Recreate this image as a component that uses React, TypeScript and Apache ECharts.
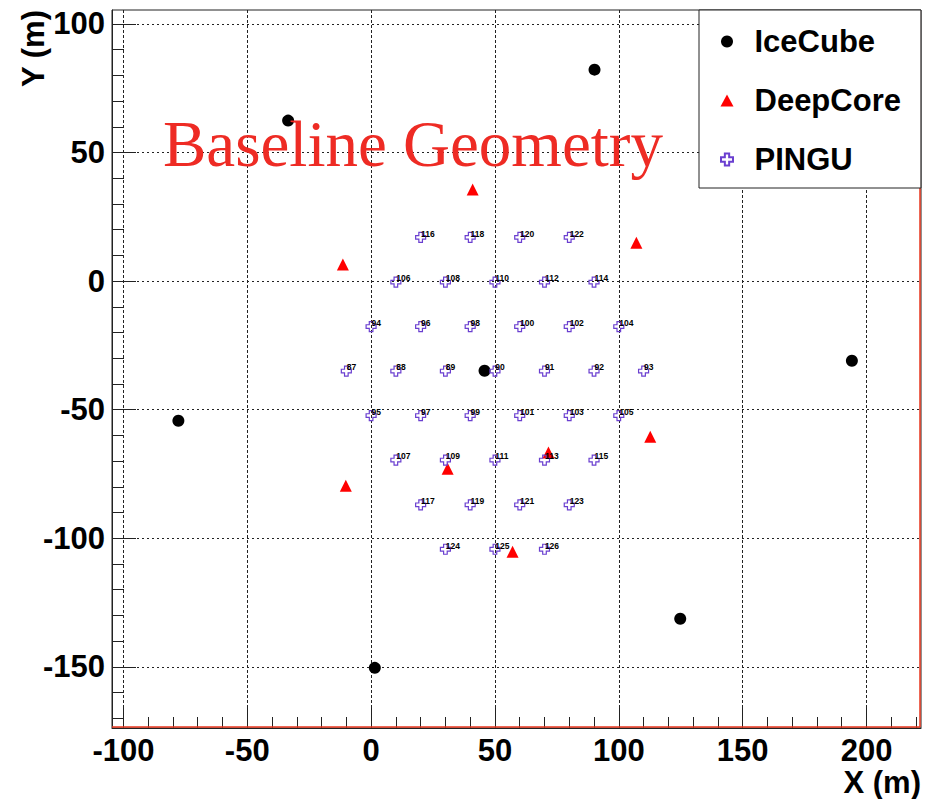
import React, { useEffect, useRef } from "react";
import * as echarts from "echarts";

// ---- data ----
const iceCubeX = [90.2, -33.5, -77.8, 45.8, 194.1, 124.8, 1.5];
const iceCubeY = [82.2, 62.4, -54.3, -34.9, -31.0, -131.3, -150.4];

const deepCoreX = [41.0, 107.1, -11.4, 112.7, 71.6, 30.9, -10.2, 57.1];
const deepCoreY = [35.6, 14.9, 6.4, -60.5, -66.7, -73.0, -79.6, -105.3];

const pinguIds = [
  87, 88, 89, 90, 91, 92, 93,
  94, 95, 96, 97, 98, 99, 100, 101, 102, 103, 104, 105,
  106, 107, 108, 109, 110, 111, 112, 113, 114, 115,
  116, 117, 118, 119, 120, 121, 122, 123,
  124, 125, 126,
];
const pinguX = [
  -10, 10, 30, 50, 70, 90, 110,
  0, 0, 20, 20, 40, 40, 60, 60, 80, 80, 100, 100,
  10, 10, 30, 30, 50, 50, 70, 70, 90, 90,
  20, 20, 40, 40, 60, 60, 80, 80,
  30, 50, 70,
];
const pinguY = [
  -35, -35, -35, -35, -35, -35, -35,
  -17.7, -52.3, -17.7, -52.3, -17.7, -52.3, -17.7, -52.3, -17.7, -52.3, -17.7, -52.3,
  -0.4, -69.6, -0.4, -69.6, -0.4, -69.6, -0.4, -69.6, -0.4, -69.6,
  17.0, -87.0, 17.0, -87.0, 17.0, -87.0, 17.0, -87.0,
  -104.3, -104.3, -104.3,
];

const xMajorTicks = [-100, -50, 0, 50, 100, 150, 200];
const xMinorTicks = [
  -90, -80, -70, -60, -40, -30, -20, -10, 10, 20, 30, 40, 60, 70, 80, 90,
  110, 120, 130, 140, 160, 170, 180, 190, 210, 220,
];
const yMajorTicks = [-150, -100, -50, 0, 50, 100];
const yMinorTicks = [
  -170, -160, -140, -130, -120, -110, -90, -80, -70, -60, -40, -30, -20, -10,
  10, 20, 30, 40, 60, 70, 80, 90,
];

const xMin = -104.6;
const xMax = 222;
const yMin = -173.8;
const yMax = 105.4;

const seriesNames = ["IceCube", "DeepCore", "PINGU"];
const titleText = "Baseline Geometry";
const xTitle = "X (m)";
const yTitle = "Y (m)";

const FONT = '"Liberation Sans", Arial, Helvetica, sans-serif';
const crossPath =
  "path://M3.2,0L6.8,0L6.8,3.2L10,3.2L10,6.8L6.8,6.8L6.8,10L3.2,10L3.2,6.8L0,6.8L0,3.2L3.2,3.2Z";

export default function App() {
  const ref = useRef<HTMLDivElement>(null);

  useEffect(() => {
    document.body.style.margin = "0";
    const chart = echarts.init(ref.current!, null, { renderer: "svg" });

    const labelStyle = {
      fontSize: 31,
      fontWeight: "bold" as const,
      color: "#000",
      fontFamily: FONT,
    };

    const option: any = {
      animation: false,
      backgroundColor: "#fff",
      grid: {
        left: 112,
        right: 5,
        top: 10,
        bottom: 71,
        show: true,
        borderColor: "#222",
        borderWidth: 1,
        backgroundColor: "transparent",
        containLabel: false,
        outerBoundsMode: "none",
      },
      xAxis: [
        {
          type: "value",
          min: xMin,
          max: xMax,
          position: "bottom",
          axisLine: { show: true, onZero: false, lineStyle: { color: "#222", width: 1 } },
          axisTick: {
            show: true,
            inside: true,
            length: 21,
            customValues: xMajorTicks,
            lineStyle: { color: "#222", width: 1 },
          },
          axisLabel: { ...labelStyle, margin: 7, customValues: xMajorTicks },
          splitLine: {
            show: true,
            lineStyle: { color: "#222", width: 1, type: [3, 2] },
          },
          minorTick: { show: false },
        },
        {
          type: "value",
          min: xMin,
          max: xMax,
          position: "bottom",
          axisLine: { show: false, onZero: false },
          axisTick: {
            show: true,
            inside: true,
            length: 11,
            customValues: xMinorTicks,
            lineStyle: { color: "#222", width: 1 },
          },
          axisLabel: { show: false },
          splitLine: { show: false },
        },
      ],
      yAxis: [
        {
          type: "value",
          min: yMin,
          max: yMax,
          position: "left",
          axisLine: { show: true, onZero: false, lineStyle: { color: "#222", width: 1 } },
          axisTick: {
            show: true,
            inside: true,
            length: 24,
            customValues: yMajorTicks,
            lineStyle: { color: "#222", width: 1 },
          },
          axisLabel: { ...labelStyle, margin: 7, customValues: yMajorTicks },
          splitLine: {
            show: true,
            lineStyle: { color: "#222", width: 1, type: [2, 3] },
          },
          minorTick: { show: false },
        },
        {
          type: "value",
          min: yMin,
          max: yMax,
          position: "left",
          axisLine: { show: false, onZero: false },
          axisTick: {
            show: true,
            inside: true,
            length: 12,
            customValues: yMinorTicks,
            lineStyle: { color: "#222", width: 1 },
          },
          axisLabel: { show: false },
          splitLine: { show: false },
        },
      ],
      legend: {
        orient: "vertical",
        left: 699,
        top: 10,
        padding: [16, 20, 13, 21],
        itemWidth: 13,
        itemHeight: 12,
        itemGap: 28,
        symbolKeepAspect: true,
        backgroundColor: "#fff",
        borderColor: "#222",
        borderWidth: 1,
        borderRadius: 0,
        selectedMode: false,
        data: seriesNames,
        textStyle: {
          fontSize: 31,
          lineHeight: 31,
          fontWeight: "bold",
          color: "#000",
          fontFamily: FONT,
          padding: [0, 0, 0, 16],
        },
        z: 10,
      },
      graphic: [
        {
          type: "line",
          z: 3,
          silent: true,
          shape: { x1: 112, y1: 727, x2: 920, y2: 727 },
          style: { stroke: "#e8341c", lineWidth: 1.5 },
        },
        {
          type: "line",
          z: 3,
          silent: true,
          shape: { x1: 920, y1: 10, x2: 920, y2: 727 },
          style: { stroke: "#e8341c", lineWidth: 1.5 },
        },
        {
          type: "text",
          z: 3,
          silent: true,
          x: 163,
          y: 144,
          style: {
            text: titleText,
            font: '65px "Liberation Serif", "Times New Roman", serif',
            fill: "#ee2b24",
            align: "left",
            verticalAlign: "middle",
          },
        },
        {
          type: "text",
          z: 3,
          silent: true,
          x: 921,
          y: 798,
          style: {
            text: xTitle,
            font: `bold 31px ${FONT}`,
            fill: "#000",
            align: "right",
            verticalAlign: "bottom",
          },
        },
        {
          type: "text",
          z: 3,
          silent: true,
          x: 49,
          y: 10,
          rotation: Math.PI / 2,
          style: {
            text: yTitle,
            font: `bold 31px ${FONT}`,
            fill: "#000",
            align: "right",
            verticalAlign: "bottom",
          },
        },
      ],
      series: [
        {
          name: seriesNames[0],
          type: "scatter",
          xAxisIndex: 0,
          yAxisIndex: 0,
          data: iceCubeX.map((x, i) => [x, iceCubeY[i]]),
          symbol: "circle",
          symbolSize: 12,
          itemStyle: { color: "#000", opacity: 1 },
          silent: true,
        },
        {
          name: seriesNames[1],
          type: "scatter",
          xAxisIndex: 0,
          yAxisIndex: 0,
          data: deepCoreX.map((x, i) => [x, deepCoreY[i]]),
          symbol: "triangle",
          symbolSize: 12,
          itemStyle: { color: "#ff0000", opacity: 1 },
          silent: true,
        },
        {
          name: seriesNames[2],
          type: "scatter",
          xAxisIndex: 0,
          yAxisIndex: 0,
          data: pinguX.map((x, i) => ({
            value: [x, pinguY[i]],
            name: String(pinguIds[i]),
          })),
          symbol: crossPath,
          symbolSize: 10,
          itemStyle: {
            color: "rgba(255,255,255,0)",
            borderColor: "#6a3fd0",
            borderWidth: 1.2,
            opacity: 1,
          },
          label: {
            show: true,
            formatter: "{b}",
            position: [6, 2],
            align: "left",
            verticalAlign: "middle",
            fontSize: 8.5,
            fontWeight: "bold",
            color: "#000",
            fontFamily: FONT,
          },
          silent: true,
        },
      ],
    };

    chart.setOption(option);
    return () => {
      chart.dispose();
    };
  }, []);

  return (
    <div
      ref={ref}
      style={{ position: "fixed", left: 0, top: 0, width: 926, height: 799 }}
    />
  );
}
